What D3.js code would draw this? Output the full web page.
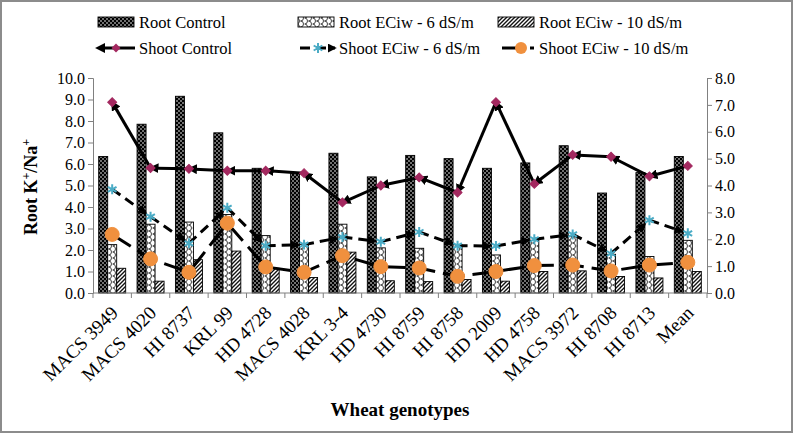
<!DOCTYPE html>
<html><head><meta charset="utf-8">
<script src="https://cdn.jsdelivr.net/npm/d3@7"></script>
<style>
html,body{margin:0;padding:0;background:#fff;}
</style></head>
<body>
<svg id="chart" width="793" height="433"></svg>
<script>
const categories = ["MACS 3949","MACS 4020","HI 8737","KRL 99","HD 4728","MACS 4028","KRL 3-4","HD 4730","HI 8759","HI 8758","HD 2009","HD 4758","MACS 3972","HI 8708","HI 8713","Mean"];
const rootControl = [6.35,7.85,9.15,7.45,5.8,5.6,6.5,5.4,6.4,6.25,5.8,6.05,6.85,4.65,5.6,6.35];
const root6 = [2.25,3.2,3.3,3.65,2.67,2.25,3.2,2.1,2.08,2.25,1.77,2.45,2.65,1.8,1.7,2.45];
const root10 = [1.15,0.55,1.55,1.95,1.15,0.72,1.9,0.57,0.53,0.63,0.55,1.0,1.03,0.77,0.7,1.0];
const shootControl = [7.1,4.65,4.62,4.55,4.55,4.46,3.37,4.0,4.3,3.74,7.1,4.06,5.14,5.07,4.34,4.73];
const shoot6 = [3.86,2.84,1.85,3.17,1.76,1.8,2.08,1.91,2.27,1.76,1.75,2.0,2.18,1.47,2.71,2.22];
const shoot10 = [2.18,1.27,0.77,2.6,0.97,0.77,1.39,0.98,0.93,0.62,0.8,1.02,1.04,0.82,1.04,1.14];
const leftTicks = [0,1,2,3,4,5,6,7,8,9,10];
const rightTicks = [0,1,2,3,4,5,6,7,8];
const seriesNames = ["Root Control","Root ECiw - 6 dS/m","Root ECiw - 10 dS/m","Shoot Control","Shoot ECiw - 6 dS/m","Shoot ECiw - 10 dS/m"];

const FONT = "Liberation Serif";
const svg = d3.select("#chart").attr("font-family",FONT);
const W = 793, H = 433;
const L = 93, R = 707, T = 78, B = 293;

svg.append("rect").attr("x",1).attr("y",1).attr("width",W-2).attr("height",H-2)
  .attr("fill","#fff").attr("stroke","#8c8c8c").attr("stroke-width",2);

const defs = svg.append("defs");
const p1 = defs.append("pattern").attr("id","pCtrl").attr("patternUnits","userSpaceOnUse").attr("width",4).attr("height",4);
p1.append("rect").attr("width",4).attr("height",4).attr("fill","#000");
p1.append("circle").attr("cx",1).attr("cy",1).attr("r",0.8).attr("fill","#fff");
p1.append("circle").attr("cx",3).attr("cy",3).attr("r",0.8).attr("fill","#fff");
const p2 = defs.append("pattern").attr("id","pSix").attr("patternUnits","userSpaceOnUse").attr("width",8).attr("height",6);
p2.append("rect").attr("width",8).attr("height",6).attr("fill","#fff");
p2.append("path").attr("d","M0.5,0 A3,3 0 0 1 0.5,6 M4.5,-3 A3,3 0 0 1 4.5,3 M4.5,3 A3,3 0 0 1 4.5,9")
  .attr("fill","none").attr("stroke","#111").attr("stroke-width",0.8);
const p3 = defs.append("pattern").attr("id","pTen").attr("patternUnits","userSpaceOnUse").attr("width",4).attr("height",4);
p3.append("rect").attr("width",4).attr("height",4).attr("fill","#fff");
p3.append("path").attr("d","M-1,5 L5,-1 M-1,1 L1,-1 M3,5 L5,3").attr("stroke","#111").attr("stroke-width",1.4);

defs.append("marker").attr("id","arrowStart").attr("viewBox","0 0 10 10").attr("refX",2).attr("refY",5)
  .attr("markerWidth",3.3).attr("markerHeight",3.3).attr("orient","auto-start-reverse").attr("markerUnits","strokeWidth")
  .append("path").attr("d","M0,0 L10,5 L0,10 z").attr("fill","#000");
defs.append("marker").attr("id","arrowEnd").attr("viewBox","0 0 10 10").attr("refX",8).attr("refY",5)
  .attr("markerWidth",3).attr("markerHeight",3).attr("orient","auto").attr("markerUnits","strokeWidth")
  .append("path").attr("d","M0,0 L10,5 L0,10 z").attr("fill","#000");

const x = d3.scaleBand().domain(categories).range([L,R]).paddingInner(0).paddingOuter(0);
const yL = d3.scaleLinear().domain([0,10]).range([B,T]);
const yR = d3.scaleLinear().domain([0,8]).range([B,T]);
const bw = 9;
const sub = d3.scaleBand().domain([0,1,2]).range([-1.5*bw,1.5*bw]);

const axisColor = "#808080";
const gL = svg.append("g").attr("transform",`translate(${L},0)`)
  .call(d3.axisLeft(yL).tickValues(leftTicks).tickFormat(d3.format(".1f")).tickSize(5).tickPadding(3));
const gR = svg.append("g").attr("transform",`translate(${R},0)`)
  .call(d3.axisRight(yR).tickValues(rightTicks).tickFormat(d3.format(".1f")).tickSize(5).tickPadding(3));
[gL,gR].forEach(g=>{
  g.attr("font-family",FONT).attr("font-size",16);
  g.select(".domain").attr("stroke",axisColor);
  g.selectAll(".tick line").attr("stroke",axisColor);
  g.selectAll(".tick text").attr("fill","#000");
});

const bars = svg.append("g");
const barSeries = [rootControl, root6, root10];
const fills = ["url(#pCtrl)","url(#pSix)","url(#pTen)"];
barSeries.forEach((vals,si)=>{
  bars.selectAll(null).data(vals).join("rect")
    .attr("x",(d,i)=>x(categories[i])+x.bandwidth()/2+sub(si))
    .attr("y",d=>yL(d)).attr("width",bw).attr("height",d=>B-yL(d))
    .attr("fill",fills[si]).attr("stroke","#000").attr("stroke-width",0.9);
});

const gX = svg.append("g").attr("transform",`translate(0,${B})`);
gX.append("line").attr("x1",L).attr("x2",R).attr("stroke",axisColor);
const bounds = d3.range(categories.length+1).map(i=>L+i*x.bandwidth());
gX.selectAll("line.tk").data(bounds).join("line").attr("class","tk")
  .attr("x1",d=>d).attr("x2",d=>d).attr("y1",0).attr("y2",5).attr("stroke",axisColor);
gX.selectAll("text").data(categories).join("text")
  .attr("transform",d=>`translate(${x(d)+x.bandwidth()/2+7},${21}) rotate(-45)`)
  .attr("text-anchor","end").attr("font-family",FONT)
  .attr("font-size",19).attr("fill","#000").text(d=>d);

const cx = i => x(categories[i])+x.bandwidth()/2;
function segs(vals, shrinkStart, shrinkEnd){
  const out=[];
  for(let i=0;i<vals.length-1;i++){
    let x1=cx(i),y1=yR(vals[i]),x2=cx(i+1),y2=yR(vals[i+1]);
    const dx=x2-x1, dy=y2-y1, len=Math.hypot(dx,dy);
    out.push({x1:x1+dx/len*shrinkStart,y1:y1+dy/len*shrinkStart,x2:x2-dx/len*shrinkEnd,y2:y2-dy/len*shrinkEnd});
  }
  return out;
}
const lines = svg.append("g");
lines.append("path").datum(shoot10)
  .attr("d",d3.line().x((d,i)=>cx(i)).y(d=>yR(d)))
  .attr("fill","none").attr("stroke","#000").attr("stroke-width",3).attr("stroke-dasharray","22,8");
lines.selectAll(null).data(segs(shoot6,0,6)).join("line")
  .attr("x1",d=>d.x1).attr("y1",d=>d.y1).attr("x2",d=>d.x2).attr("y2",d=>d.y2)
  .attr("stroke","#000").attr("stroke-width",3).attr("stroke-dasharray","10,6")
  .attr("marker-end","url(#arrowEnd)");
lines.selectAll(null).data(segs(shootControl,6,0)).join("line")
  .attr("x1",d=>d.x1).attr("y1",d=>d.y1).attr("x2",d=>d.x2).attr("y2",d=>d.y2)
  .attr("stroke","#000").attr("stroke-width",3)
  .attr("marker-start","url(#arrowStart)");

const diamond = d3.symbol().type(d3.symbolSquare).size(40);
lines.selectAll(null).data(shootControl).join("path")
  .attr("d",diamond).attr("transform",(d,i)=>`translate(${cx(i)},${yR(d)}) rotate(45)`)
  .attr("fill","#A3285F").attr("stroke","#A3285F").attr("stroke-width",1);
const star = d3.symbol().type(d3.symbolAsterisk).size(70);
lines.selectAll(null).data(shoot6).join("path")
  .attr("d",star).attr("transform",(d,i)=>`translate(${cx(i)},${yR(d)})`)
  .attr("fill","none").attr("stroke","#4BACC6").attr("stroke-width",2);
lines.selectAll(null).data(shoot10).join("circle")
  .attr("cx",(d,i)=>cx(i)).attr("cy",d=>yR(d)).attr("r",7)
  .attr("fill","#F0903E").attr("stroke","#F0903E");

svg.append("text").attr("transform","translate(37,187) rotate(-90)").attr("text-anchor","middle")
  .attr("font-family",FONT).attr("font-size",18).attr("font-weight","bold").attr("fill","#000")
  .html('Root K<tspan baseline-shift="super" font-size="12">+</tspan>/Na<tspan baseline-shift="super" font-size="12">+</tspan>');
svg.append("text").attr("x",400).attr("y",416).attr("text-anchor","middle")
  .attr("font-family",FONT).attr("font-size",19).attr("font-weight","bold").attr("fill","#000").text("Wheat genotypes");

const lg = svg.append("g").attr("font-family",FONT);
const legX = [98,298,498];
const row1 = 22, row2 = 48;
const LFS = 16.5;
[0,1,2].forEach(i=>{
  lg.append("rect").attr("x",legX[i]).attr("y",row1-5).attr("width",36).attr("height",10)
    .attr("fill",fills[i]).attr("stroke","#000").attr("stroke-width",0.9);
  lg.append("text").attr("x",legX[i]+41).attr("y",row1).attr("dy","0.35em")
    .attr("font-size",LFS).attr("fill","#000").text(seriesNames[i]);
});
lg.append("line").attr("x1",legX[0]+5).attr("x2",legX[0]+37).attr("y1",row2).attr("y2",row2)
  .attr("stroke","#000").attr("stroke-width",3).attr("marker-start","url(#arrowStart)");
lg.append("path").attr("d",diamond).attr("transform",`translate(${legX[0]+18},${row2}) rotate(45)`).attr("fill","#A3285F");
lg.append("text").attr("x",legX[0]+41).attr("y",row2).attr("dy","0.35em").attr("font-size",LFS).attr("fill","#000").text(seriesNames[3]);
lg.append("line").attr("x1",legX[1]+2).attr("x2",legX[1]+37).attr("y1",row2).attr("y2",row2)
  .attr("stroke","#000").attr("stroke-width",3).attr("stroke-dasharray","10,6").attr("marker-end","url(#arrowEnd)");
lg.append("path").attr("d",star).attr("transform",`translate(${legX[1]+20},${row2})`).attr("fill","none").attr("stroke","#4BACC6").attr("stroke-width",2);
lg.append("text").attr("x",legX[1]+41).attr("y",row2).attr("dy","0.35em").attr("font-size",LFS).attr("fill","#000").text(seriesNames[4]);
lg.append("line").attr("x1",legX[2]+4).attr("x2",legX[2]+36).attr("y1",row2).attr("y2",row2)
  .attr("stroke","#000").attr("stroke-width",3).attr("stroke-dasharray","22,6");
lg.append("circle").attr("cx",legX[2]+23).attr("cy",row2).attr("r",6).attr("fill","#F0903E");
lg.append("text").attr("x",legX[2]+41).attr("y",row2).attr("dy","0.35em").attr("font-size",LFS).attr("fill","#000").text(seriesNames[5]);
</script>
</body></html>
